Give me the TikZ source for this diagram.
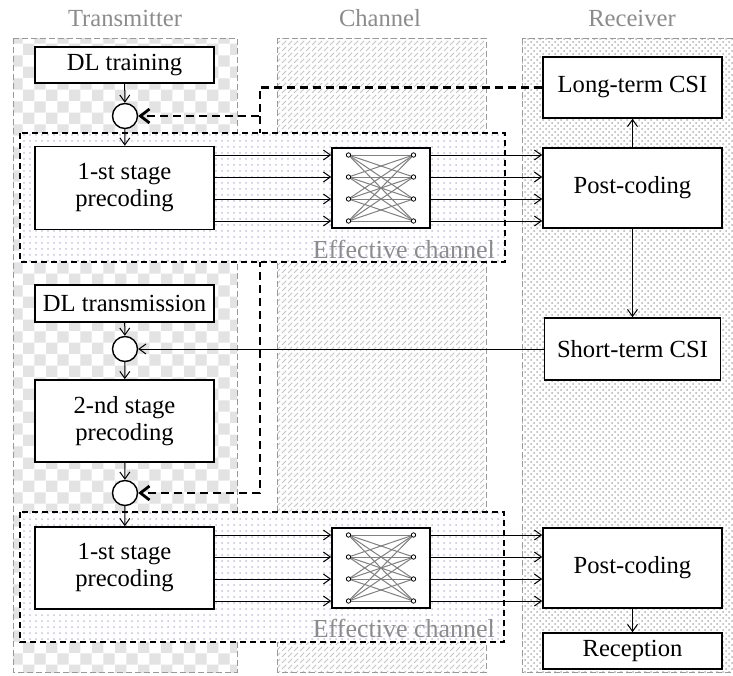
\documentclass[tikz,border=0pt]{standalone}
\usepackage{fontspec}
\setmainfont{Liberation Serif}
\usetikzlibrary{arrows.meta, positioning, calc, patterns}

\pgfdeclarelayer{back}
\pgfdeclarelayer{mid}
\pgfsetlayers{back,mid,main}

\tikzset{
  blockbox/.style={draw, line width=0.8pt, fill=white, minimum width=89.5pt, align=center, inner sep=1pt},
  mixer/.style={draw, circle, line width=0.7pt, fill=white, minimum size=12.5pt, inner sep=0pt},
  arr/.style={-{Straight Barb[length=3.5pt,width=5pt]}, line width=0.5pt},
  fbarr/.style={-{Straight Barb[length=4.5pt,width=7pt]}, line width=1.4pt, dash pattern=on 4pt off 2.5pt},
  region/.style={draw=gray!80, line width=0.4pt, dash pattern=on 3pt off 1.5pt, preaction={fill=white}},
  effbox/.style={draw, line width=0.7pt, dash pattern=on 3pt off 2pt, preaction={fill=white}, pattern=dots, pattern color=blue!40!gray!35},
  title/.style={text=gray!90}
}

\begin{document}
\begin{tikzpicture}[x=0.5pt, y=-0.5pt, font=\fontsize{12.3pt}{13.5pt}\selectfont]
    \useasboundingbox (0,0) rectangle (733,675);
    % Transmitter, channel and receiver areas
    \begin{pgfonlayer}{back}
        \fill[white] (0,0) rectangle (733,675);
        \draw[region, pattern=checkerboard, pattern color=gray!22] (13,38) rectangle (237,672);
        \draw[region, pattern=north east lines, pattern color=gray!45] (277,38) rectangle (486,672);
        \draw[region, pattern=crosshatch dots, pattern color=gray!60] (522,38) rectangle (745,672);
    \end{pgfonlayer}
    \node[title] (txlabel) at (125,18) {Transmitter};
    \node[title] (chlabel) at (380,18) {Channel};
    \node[title] (rxlabel) at (632,18) {Receiver};

    % Effective channels
    \begin{pgfonlayer}{mid}
        \draw[effbox] (20,133) rectangle (505,262);
        \draw[effbox] (20,512) rectangle (504,642);
    \end{pgfonlayer}
    \node[title, anchor=east, font=\fontsize{13pt}{14pt}\selectfont] (efflab1) at (502,249) {Effective channel};
    \node[title, anchor=east, font=\fontsize{13pt}{14pt}\selectfont] (efflab2) at (502,628) {Effective channel};

    % Transmitter blocks
    \node[blockbox, minimum height=18pt] (train) at (124.5,65) {DL training};
    \node[mixer] (mix1) at (125,116) {};
    \node[blockbox, minimum height=41.5pt] (pre1) at (124.5,188) {1-st stage\\precoding};
    \node[blockbox, minimum height=18.5pt] (dltx) at (124.5,303.5) {DL transmission};
    \node[mixer] (mix2) at (125,349) {};
    \node[blockbox, minimum height=41pt] (pre2) at (124.5,421) {2-nd stage\\precoding};
    \node[mixer] (mix3) at (125,493) {};
    \node[blockbox, minimum height=41pt] (pre3) at (124.5,568) {1-st stage\\precoding};

    % Channel matrices
    \node[blockbox, minimum width=49pt, minimum height=40pt] (chan1) at (381,188) {};
    \node[blockbox, minimum width=49pt, minimum height=40pt] (chan2) at (381,568) {};
    \foreach \c in {chan1, chan2} {
        \begin{scope}[shift={(\c.center)}]
            \foreach \a in {-33,-11,11,33}
                \foreach \b in {-33,-11,11,33}
                    \draw[gray, line width=0.5pt] (-32.5,\a) -- (32.5,\b);
            \foreach \a in {-33,-11,11,33} {
                \draw[fill=white, line width=0.4pt] (-32.5,\a) circle (1.1pt);
                \draw[fill=white, line width=0.4pt] (32.5,\a) circle (1.1pt);
            }
        \end{scope}
    }

    % Receiver blocks
    \node[blockbox, minimum height=30.5pt] (ltcsi) at (632.5,87.5) {Long-term CSI};
    \node[blockbox, minimum height=40pt] (post1) at (632.5,188) {Post-coding};
    \node[blockbox, minimum width=88pt, minimum height=31pt] (stcsi) at (632.5,349) {Short-term CSI};
    \node[blockbox, minimum height=40pt] (post2) at (632.5,568) {Post-coding};
    \node[blockbox, minimum height=18pt] (recep) at (632.5,651) {Reception};

    % Signal paths
    \foreach \d in {-16.5,-5.5,5.5,16.5} {
        \draw[arr] ([yshift=\d pt]pre1.east) -- ([yshift=\d pt]chan1.west);
        \draw[arr] ([yshift=\d pt]chan1.east) -- ([yshift=\d pt]post1.west);
        \draw[arr] ([yshift=\d pt]pre3.east) -- ([yshift=\d pt]chan2.west);
        \draw[arr] ([yshift=\d pt]chan2.east) -- ([yshift=\d pt]post2.west);
    }
    \draw[arr] (train) -- (mix1);
    \draw[arr] (mix1) -- (pre1);
    \draw[arr] (dltx) -- (mix2);
    \draw[arr] (mix2) -- (pre2);
    \draw[arr] (pre2) -- (mix3);
    \draw[arr] (mix3) -- (pre3);
    \draw[arr] (post1) -- (ltcsi);
    \draw[arr] (post1) -- (stcsi);
    \draw[arr] (stcsi) -- (mix2);
    \draw[arr] (post2) -- (recep);

    % Long-term CSI feedback
    \coordinate (fbx) at (260,0);
    \begin{pgfonlayer}{back}
        \draw[fbarr] (ltcsi.west) -| (fbx |- mix1) -- (mix1.east);
        \draw[fbarr] (fbx |- mix1) -- (fbx |- mix3) -- (mix3.east);
    \end{pgfonlayer}
\end{tikzpicture}
\end{document}
